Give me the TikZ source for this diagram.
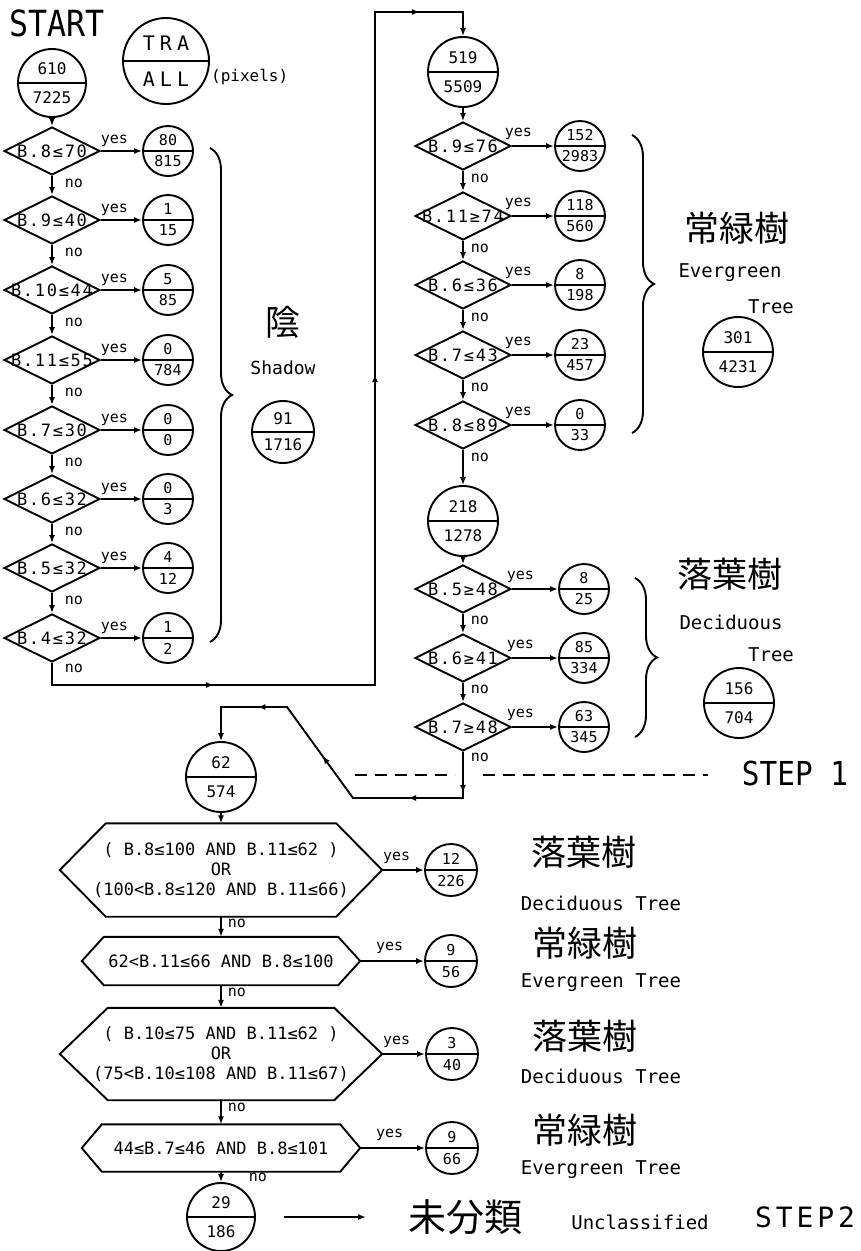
\documentclass[tikz,border=0pt]{standalone}
\usepackage{fontspec}
\setmainfont{DejaVu Sans Mono}
\newfontfamily\cjk{Noto Sans CJK JP}
\newfontfamily\condls{DejaVu Sans Mono}[LetterSpace=10]
\newfontfamily\legls{DejaVu Sans Mono}[LetterSpace=25]
\newfontfamily\stepls{DejaVu Sans Mono}[LetterSpace=14]
\usetikzlibrary{shapes.geometric,arrows.meta,decorations.pathreplacing,decorations.markings}
\newcommand{\fsz}[1]{\fontsize{#1pt}{#1pt}\selectfont}
\tikzset{
  ln/.style={line width=1.9pt},
  arr/.style={ln,-{Latex[length=8pt,width=6pt]}},
  mk/.style={postaction={decorate,decoration={markings,mark=at position #1 with {\arrow{Latex[length=8pt,width=6pt]}}}}},
  circ/.style={draw,circle,ln,inner sep=0pt},
  dia/.style={draw,diamond,ln,inner sep=0pt,minimum width=96pt,minimum height=48pt},
  cond/.style={inner sep=0pt,font=\condls\fsz{17}},
  hexbox/.style={inner sep=0pt,align=center,font=\fontsize{17pt}{20pt}\selectfont},
  yesL/.style 2 args={at start,anchor=base west,inner sep=0pt,xshift=#1,yshift=#2,font=\fsz{15}},
  noL/.style 2 args={at start,anchor=base west,inner sep=0pt,xshift=#1,yshift=#2,font=\fsz{15}},
  dsh/.style={line width=1.5pt,dash pattern=on 12pt off 8pt},
  brc/.style={ln,decorate,decoration={brace,amplitude=22pt}},
  lbl/.style={inner sep=0pt,font=\fsz{19}},
  kanji/.style={inner sep=0pt,font=\cjk\fsz{35}},
}
\newcommand{\splitcirc}[7]{%
  \node[circ,minimum size=#4pt] (#1) at (#2,#3) {};
  \draw[ln] (#1.west) -- (#1.east);
  \node[inner sep=0pt,font=#5] (#1t) at ([yshift=0.21*#4pt]#1.center) {#6};
  \node[inner sep=0pt,font=#5] (#1b) at ([yshift=-0.21*#4pt]#1.center) {#7};}
\newcommand{\dianode}[4]{%
  \node[dia] (#1) at (#2,#3) {};
  \node[cond] (#1l) at (#1.center) {#4};}
\newcommand{\hexnode}[7]{%
  \node[hexbox,minimum width=#4pt,minimum height=#5pt] (#1) at (#2,#3) {#7};
  \draw[ln] (#1.west) -- ([xshift=#6pt]#1.north west) -- ([xshift=-#6pt]#1.north east)
     -- (#1.east) -- ([xshift=-#6pt]#1.south east) -- ([xshift=#6pt]#1.south west) -- cycle;}
\begin{document}
\begin{tikzpicture}[x=1pt,y=-1pt]
\useasboundingbox (0,0) rectangle (860,1251);
% ---------- header ----------
\node[inner sep=0pt,font=\fsz{36}] (start) at (57,23) {\scalebox{0.88}[1]{START}};
\splitcirc{leg}{166}{61}{86}{\legls\fsz{20}}{TRA}{ALL}
\node[inner sep=0pt,anchor=west,font=\fsz{16}] (pix) at (211,77) {(pixels)};
% ---------- left chain ----------
\splitcirc{c0}{52}{83}{68}{\fsz{16}}{610}{7225}
\dianode{d1}{52}{151}{B.8≤70}
\dianode{d2}{52}{220}{B.9≤40}
\dianode{d3}{52}{290}{B.10≤44}
\dianode{d4}{52}{360}{B.11≤55}
\dianode{d5}{52}{430}{B.7≤30}
\dianode{d6}{52}{499}{B.6≤32}
\dianode{d7}{52}{568}{B.5≤32}
\dianode{d8}{52}{638}{B.4≤32}
\splitcirc{r1}{168}{151}{50}{\fsz{15}}{80}{815}
\splitcirc{r2}{168}{220}{50}{\fsz{15}}{1}{15}
\splitcirc{r3}{168}{290}{50}{\fsz{15}}{5}{85}
\splitcirc{r4}{168}{360}{50}{\fsz{15}}{0}{784}
\splitcirc{r5}{168}{430}{50}{\fsz{15}}{0}{0}
\splitcirc{r6}{168}{499}{50}{\fsz{15}}{0}{3}
\splitcirc{r7}{168}{568}{50}{\fsz{15}}{4}{12}
\splitcirc{r8}{168}{638}{50}{\fsz{15}}{1}{2}
\draw[arr] (c0) -- (d1);
\draw[arr] (d1) -- node[noL={12pt}{-12pt}]{no} (d2);
\draw[arr] (d2) -- node[noL={12pt}{-12pt}]{no} (d3);
\draw[arr] (d3) -- node[noL={12pt}{-12pt}]{no} (d4);
\draw[arr] (d4) -- node[noL={12pt}{-12pt}]{no} (d5);
\draw[arr] (d5) -- node[noL={12pt}{-12pt}]{no} (d6);
\draw[arr] (d6) -- node[noL={12pt}{-12pt}]{no} (d7);
\draw[arr] (d7) -- node[noL={12pt}{-12pt}]{no} (d8);
\draw[arr] (d1) -- node[yesL={-1pt}{8pt}]{yes} (r1);
\draw[arr] (d2) -- node[yesL={-1pt}{8pt}]{yes} (r2);
\draw[arr] (d3) -- node[yesL={-1pt}{8pt}]{yes} (r3);
\draw[arr] (d4) -- node[yesL={-1pt}{8pt}]{yes} (r4);
\draw[arr] (d5) -- node[yesL={-1pt}{8pt}]{yes} (r5);
\draw[arr] (d6) -- node[yesL={-1pt}{8pt}]{yes} (r6);
\draw[arr] (d7) -- node[yesL={-1pt}{8pt}]{yes} (r7);
\draw[arr] (d8) -- node[yesL={-1pt}{8pt}]{yes} (r8);
\coordinate (ba) at (210,148); \coordinate (bb) at (210,642);
\draw[brc] (ba) -- (bb);
\node[kanji] (shk) at (283,322) {陰};
\node[lbl,font=\fsz{18}] (sh) at (283,368) {Shadow};
\splitcirc{sc}{283}{432}{62}{\fsz{16}}{91}{1716}
% ---------- right chain ----------
\splitcirc{c519}{463}{72}{70}{\fsz{16}}{519}{5509}
\dianode{e1}{463}{146}{B.9≤76}
\dianode{e2}{463}{216}{B.11≥74}
\dianode{e3}{463}{285}{B.6≤36}
\dianode{e4}{463}{355}{B.7≤43}
\dianode{e5}{463}{425}{B.8≤89}
\splitcirc{s1}{580}{146}{50}{\fsz{15}}{152}{2983}
\splitcirc{s2}{580}{216}{50}{\fsz{15}}{118}{560}
\splitcirc{s3}{580}{285}{50}{\fsz{15}}{8}{198}
\splitcirc{s4}{580}{355}{50}{\fsz{15}}{23}{457}
\splitcirc{s5}{580}{425}{50}{\fsz{15}}{0}{33}
% ---------- link to right chain ----------
\coordinate (j1) at (52,685); \coordinate (j2) at (375,685);
\coordinate (j3) at (375,12); \coordinate (j4) at (463,12);
\draw[arr,mk=184pt,mk=656pt,mk=1063pt] (d8) -- node[noL={12pt}{-10pt}]{no} (j1) -- (j2) -- (j3) -- (j4) -- (c519);
\draw[arr] (c519) -- (e1);
\draw[arr] (e1) -- node[noL={7pt}{-12pt}]{no} (e2);
\draw[arr] (e2) -- node[noL={7pt}{-12pt}]{no} (e3);
\draw[arr] (e3) -- node[noL={7pt}{-12pt}]{no} (e4);
\draw[arr] (e4) -- node[noL={7pt}{-12pt}]{no} (e5);
\draw[arr] (e1) -- node[yesL={-8pt}{10pt}]{yes} (s1);
\draw[arr] (e2) -- node[yesL={-8pt}{10pt}]{yes} (s2);
\draw[arr] (e3) -- node[yesL={-8pt}{10pt}]{yes} (s3);
\draw[arr] (e4) -- node[yesL={-8pt}{10pt}]{yes} (s4);
\draw[arr] (e5) -- node[yesL={-8pt}{10pt}]{yes} (s5);
\coordinate (bc) at (632,135); \coordinate (bd) at (632,433);
\draw[brc] (bc) -- (bd);
\node[kanji] (egk) at (737,228) {常緑樹};
\node[lbl] (eg1) at (730,273) {Evergreen};
\node[lbl] (eg2) at (771,307) {Tree};
\splitcirc{egc}{738}{352}{70}{\fsz{16}}{301}{4231}
\splitcirc{c218}{463}{521}{70}{\fsz{16}}{218}{1278}
\draw[arr] (e5) -- node[noL={7pt}{-12pt}]{no} (c218);
\dianode{f1}{463}{589}{B.5≥48}
\dianode{f2}{463}{658}{B.6≥41}
\dianode{f3}{463}{727}{B.7≥48}
\splitcirc{t1}{584}{589}{50}{\fsz{15}}{8}{25}
\splitcirc{t2}{584}{658}{50}{\fsz{15}}{85}{334}
\splitcirc{t3}{584}{727}{50}{\fsz{15}}{63}{345}
\draw[arr] (c218) -- (f1);
\draw[arr] (f1) -- node[noL={7pt}{-11pt}]{no} (f2);
\draw[arr] (f2) -- node[noL={7pt}{-11pt}]{no} (f3);
\draw[arr] (f1) -- node[yesL={-6pt}{10pt}]{yes} (t1);
\draw[arr] (f2) -- node[yesL={-6pt}{10pt}]{yes} (t2);
\draw[arr] (f3) -- node[yesL={-6pt}{10pt}]{yes} (t3);
\coordinate (be) at (635,578); \coordinate (bf) at (635,737);
\draw[brc] (be) -- (bf);
\node[kanji] (dck) at (730,574) {落葉樹};
\node[lbl] (dc1) at (731,622) {Deciduous};
\node[lbl] (dc2) at (771,655) {Tree};
\splitcirc{dcc}{739}{703}{70}{\fsz{16}}{156}{704}
% ---------- STEP 1 line ----------
\coordinate (q1) at (355,775); \coordinate (q2) at (455,775);
\coordinate (q3) at (483,775); \coordinate (q4) at (708,775);
\draw[dsh] (q1) -- (q2);
\draw[dsh] (q3) -- (q4);
\node[inner sep=0pt,font=\fsz{33}] (st1) at (795,773) {\scalebox{0.89}[1]{STEP 1}};
% ---------- loop back ----------
\coordinate (k1) at (463,798); \coordinate (k2) at (353,798);
\coordinate (k3) at (287,707); \coordinate (k4) at (221,707);
\splitcirc{c62}{221}{777}{70}{\fsz{16}}{62}{574}
\draw[arr,mk=41pt,mk=101pt,mk=208pt,mk=298pt] (f3) -- node[noL={7pt}{-10pt}]{no} (k1) -- (k2) -- (k3) -- (k4) -- (c62);
% ---------- STEP 2 ----------
\hexnode{h1}{221}{870}{322}{93}{46}{( B.8≤100 AND B.11≤62 )\\OR\\(100<B.8≤120 AND B.11≤66)}
\hexnode{h2}{221}{961}{278}{48}{22}{62<B.11≤66 AND B.8≤100}
\hexnode{h3}{221}{1054}{322}{92}{48}{( B.10≤75 AND B.11≤62 )\\OR\\(75<B.10≤108 AND B.11≤67)}
\hexnode{h4}{221}{1148}{278}{47}{20}{44≤B.7≤46 AND B.8≤101}
\splitcirc{g1}{451}{870}{52}{\fsz{15}}{12}{226}
\splitcirc{g2}{451}{961}{52}{\fsz{15}}{9}{56}
\splitcirc{g3}{452}{1054}{52}{\fsz{15}}{3}{40}
\splitcirc{g4}{452}{1148}{52}{\fsz{15}}{9}{66}
\splitcirc{c29}{221}{1217}{68}{\fsz{16}}{29}{186}
\draw[arr] (c62) -- (h1);
\draw[arr] (h1) -- node[noL={6pt}{-11pt}]{no} (h2);
\draw[arr] (h2) -- node[noL={6pt}{-11pt}]{no} (h3);
\draw[arr] (h3) -- node[noL={6pt}{-11pt}]{no} (h4);
\draw[arr] (h4) -- node[noL={27pt}{-10pt}]{no} (c29);
\draw[arr] (h1) -- node[yesL={0pt}{10pt}]{yes} (g1);
\draw[arr] (h2) -- node[yesL={15pt}{11pt}]{yes} (g2);
\draw[arr] (h3) -- node[yesL={0pt}{10pt}]{yes} (g3);
\draw[arr] (h4) -- node[yesL={15pt}{11pt}]{yes} (g4);
\node[kanji] (k2a) at (584,852) {落葉樹};
\node[lbl] (k2b) at (601,903) {Deciduous Tree};
\node[kanji] (k2c) at (585,943) {常緑樹};
\node[lbl] (k2d) at (601,983) {Evergreen Tree};
\node[kanji] (k2e) at (585,1036) {落葉樹};
\node[lbl] (k2f) at (601,1076) {Deciduous Tree};
\node[kanji] (k2g) at (585,1130) {常緑樹};
\node[lbl] (k2h) at (601,1170) {Evergreen Tree};
\coordinate (u1) at (284,1217); \coordinate (u2) at (366,1217);
\draw[arr,line width=1.5pt] (u1) -- (u2);
\node[inner sep=0pt,font=\cjk\fsz{38}] (unk) at (465,1217) {未分類};
\node[lbl] (unc) at (640,1222) {Unclassified};
\node[inner sep=0pt,font=\stepls\fsz{28}] (st2) at (805,1217) {STEP2};
\end{tikzpicture}
\end{document}
